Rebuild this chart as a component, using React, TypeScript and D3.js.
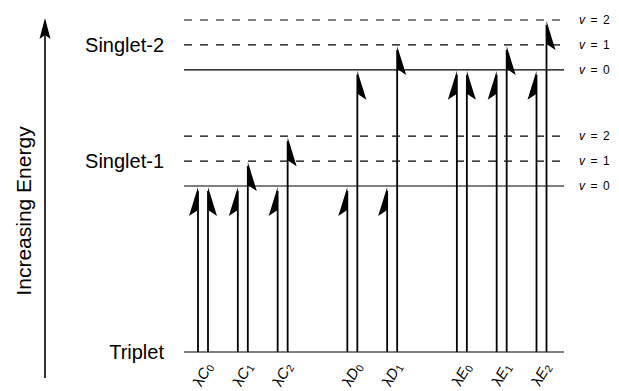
import React, { useEffect, useRef } from "react";
import * as d3 from "d3";

// energy levels (arbitrary units, triplet = 0)
const levelEnergy = [0, 1.0, 1.15, 1.3, 1.7, 1.85, 2.0];
const levelDashed = [false, false, true, true, false, true, true];
const levelTag = ["", "v = 0", "v = 1", "v = 2", "v = 0", "v = 1", "v = 2"];

const stateNames = ["Triplet", "Singlet-1", "Singlet-2"];
const stateLabelEnergy = [0, 1.15, 1.85];

// transitions: pump arrow (left) and probe arrow (right) for each wavelength
const transLetter = ["C", "C", "C", "D", "D", "E", "E", "E"];
const transIndex = ["0", "1", "2", "0", "1", "0", "1", "2"];
const transSlot = [0, 1, 2, 3.75, 4.75, 6.5, 7.5, 8.5];
const pumpEnergy = [1.0, 1.0, 1.0, 1.0, 1.0, 1.7, 1.7, 1.7];
const probeEnergy = [1.0, 1.15, 1.3, 1.7, 1.85, 1.7, 1.85, 2.0];

const W = 619;
const H = 391;
const FONT = "'Liberation Sans', Arial, sans-serif";

const App = () => {
  const ref = useRef(null);

  useEffect(() => {
    const svg = d3.select(ref.current);
    svg.selectAll("*").remove();

    const y = d3.scaleLinear().domain([0, 2]).range([352, 20]);
    const x = d3.scaleLinear().domain([0, 8.5]).range([203, 541.5]);
    const x0 = 184, x1 = 564;

    // energy levels
    svg.selectAll("line.level")
      .data(levelEnergy)
      .enter()
      .append("line")
      .attr("class", "level")
      .attr("x1", x0)
      .attr("x2", x1)
      .attr("y1", d => y(d))
      .attr("y2", d => y(d))
      .attr("stroke", "#000")
      .attr("stroke-width", 1.2)
      .attr("stroke-dasharray", (d, i) => (levelDashed[i] ? "8,8" : null));

    // v labels
    levelEnergy.forEach((e, i) => {
      if (!levelTag[i]) return;
      const t = svg.append("text")
        .attr("x", 579)
        .attr("y", y(e))
        .attr("dominant-baseline", "central")
        .attr("font-family", FONT)
        .attr("font-size", 12);
      t.append("tspan").attr("font-style", "italic").text("v");
      t.append("tspan").attr("x", 590.5).text("=");
      t.append("tspan").attr("x", 603).text(levelTag[i].slice(-1));
    });

    // state names
    svg.selectAll("text.state")
      .data(stateNames)
      .enter()
      .append("text")
      .attr("class", "state")
      .attr("x", 164)
      .attr("y", (d, i) => y(stateLabelEnergy[i]))
      .attr("text-anchor", "end")
      .attr("dominant-baseline", "central")
      .attr("font-family", FONT)
      .attr("font-size", 20)
      .text(d => d);

    // energy axis arrow
    svg.append("line")
      .attr("x1", 45).attr("x2", 45)
      .attr("y1", 378).attr("y2", 30)
      .attr("stroke", "#000")
      .attr("stroke-width", 1.6);
    svg.append("path")
      .attr("d", "M45,18 L50.5,39 L45,35 L39.5,39 Z")
      .attr("fill", "#000");
    svg.append("text")
      .attr("transform", "translate(23,211) rotate(-90)")
      .attr("text-anchor", "middle")
      .attr("dominant-baseline", "central")
      .attr("font-family", FONT)
      .attr("font-size", 21)
      .text("Increasing Energy");

    // arrows
    const arrow = (ax, eTop, side) => {
      const yt = y(eTop) + 1;
      svg.append("line")
        .attr("x1", ax).attr("x2", ax)
        .attr("y1", y(0)).attr("y2", yt + 4)
        .attr("stroke", "#000")
        .attr("stroke-width", 1.8);
      svg.append("path")
        .attr("d", `M${ax},${yt} L${ax + side * 9},${yt + 29} L${ax},${yt + 23} Z`)
        .attr("fill", "#000");
    };

    transSlot.forEach((s, i) => {
      const cx = x(s);
      arrow(cx - 5, pumpEnergy[i], -1);
      arrow(cx + 5, probeEnergy[i], 1);

      const t = svg.append("text")
        .attr("transform", `translate(${cx - 1},${374}) rotate(-60)`)
        .attr("text-anchor", "middle")
        .attr("dominant-baseline", "central")
        .attr("font-family", FONT)
        .attr("font-size", 15);
      t.append("tspan").text("λ");
      t.append("tspan").attr("font-style", "italic").text(transLetter[i]);
      t.append("tspan").attr("font-size", 10.5).attr("dy", 4).text(transIndex[i]);
    });
  }, []);

  return (
    <svg
      ref={ref}
      width={W}
      height={H}
      style={{ position: "absolute", left: 0, top: 0, background: "#fff" }}
    ></svg>
  );
};

export default App;
